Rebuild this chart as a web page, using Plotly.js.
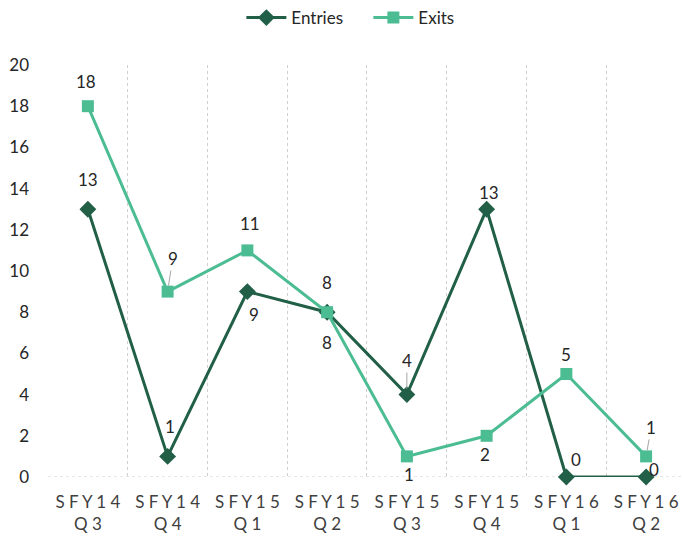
<!DOCTYPE html>
<html>
<head>
<meta charset="utf-8">
<script src="https://cdn.plot.ly/plotly-3.0.1.min.js"></script>
<style>html,body{margin:0;padding:0;background:#fff;}#chart{width:682px;height:536px;}</style>
</head>
<body>
<div id="chart"></div>
<script>
// ---- data ----
var categories = ["SFY14 Q3","SFY14 Q4","SFY15 Q1","SFY15 Q2","SFY15 Q3","SFY15 Q4","SFY16 Q1","SFY16 Q2"];
var tickLabels = ["S F Y 1 4<br>Q 3","S F Y 1 4<br>Q 4","S F Y 1 5<br>Q 1","S F Y 1 5<br>Q 2","S F Y 1 5<br>Q 3","S F Y 1 5<br>Q 4","S F Y 1 6<br>Q 1","S F Y 1 6<br>Q 2"];
var entries = [13, 1, 9, 8, 4, 13, 0, 0];
var exits = [18, 9, 11, 8, 1, 2, 5, 1];

// ---- label placement (style: pixel offsets from each point) ----
var entriesLabelOff = [[0,-30],[2,-30],[7,23],[0,30],[0,-34],[2,-17],[10,-18],[8,-8]];
var exitsLabelOff = [[-2,-25],[5,-33],[3,-27],[0,-30],[2,18],[-2,19],[0,-20],[5,-29]];
var entriesLeader = [false,false,false,false,true,false,false,false];
var exitsLeader = [false,true,false,false,false,false,false,true];

var cEntries = "#215f47";
var cExits = "#4cbd93";
var font = "Lato, 'Open Sans', sans-serif";

function labels(vals, off, leader) {
  return vals.map(function(v, i) {
    return {
      x: categories[i], y: v, xref: "x", yref: "y",
      text: String(v), showarrow: true,
      ax: off[i][0], ay: off[i][1],
      arrowhead: 0, arrowwidth: 1,
      arrowcolor: leader[i] ? "#a6a6a6" : "rgba(0,0,0,0)",
      standoff: 6, startstandoff: 0,
      font: {family: font, size: 17, color: "#262626"}
    };
  });
}

var traces = [
  {
    x: categories, y: entries, name: "Entries", type: "scatter", mode: "lines+markers",
    line: {color: cEntries, width: 3},
    marker: {symbol: "diamond", size: 13, color: cEntries},
    cliponaxis: false
  },
  {
    x: categories, y: exits, name: "Exits", type: "scatter", mode: "lines+markers",
    line: {color: cExits, width: 3},
    marker: {symbol: "square", size: 12, color: cExits},
    cliponaxis: false
  }
];

var layout = {
  width: 682, height: 536,
  margin: {l: 48, r: 0, t: 65, b: 59},
  paper_bgcolor: "#fff", plot_bgcolor: "#fff",
  font: {family: font, color: "#262626"},
  showlegend: true,
  legend: {
    orientation: "h", x: 0.305, xanchor: "left", y: 1.114, yanchor: "middle",
    font: {family: font, size: 17, color: "#262626"},
    itemwidth: 40, entrywidth: 72, entrywidthmode: "pixels", tracegroupgap: 0
  },
  xaxis: {
    type: "category", range: [-0.5, 7.45],
    tickmode: "array", tickvals: categories, ticktext: tickLabels,
    tickson: "boundaries", ticks: "", showgrid: true,
    gridcolor: "#cfcfcf", gridwidth: 1, griddash: "dot",
    showline: false, zeroline: false,
    tickfont: {family: font, size: 17, color: "#404040"},
    ticklabelstandoff: 13,
    automargin: false, fixedrange: true
  },
  yaxis: {
    range: [0, 20], dtick: 2, tick0: 0,
    showgrid: false, zeroline: false, showline: false, ticks: "",
    tickfont: {family: font, size: 17, color: "#262626"},
    ticklabelstandoff: 18,
    automargin: false, fixedrange: true
  },
  shapes: [
    {type: "line", xref: "paper", yref: "y", x0: 0, x1: 1, y0: 0, y1: 0,
     line: {color: "#cfcfcf", width: 1, dash: "dot"}, layer: "below"}
  ],
  annotations: labels(entries, entriesLabelOff, entriesLeader).concat(labels(exits, exitsLabelOff, exitsLeader))
};

Plotly.newPlot("chart", traces, layout, {displayModeBar: false, staticPlot: true});
</script>
</body>
</html>
